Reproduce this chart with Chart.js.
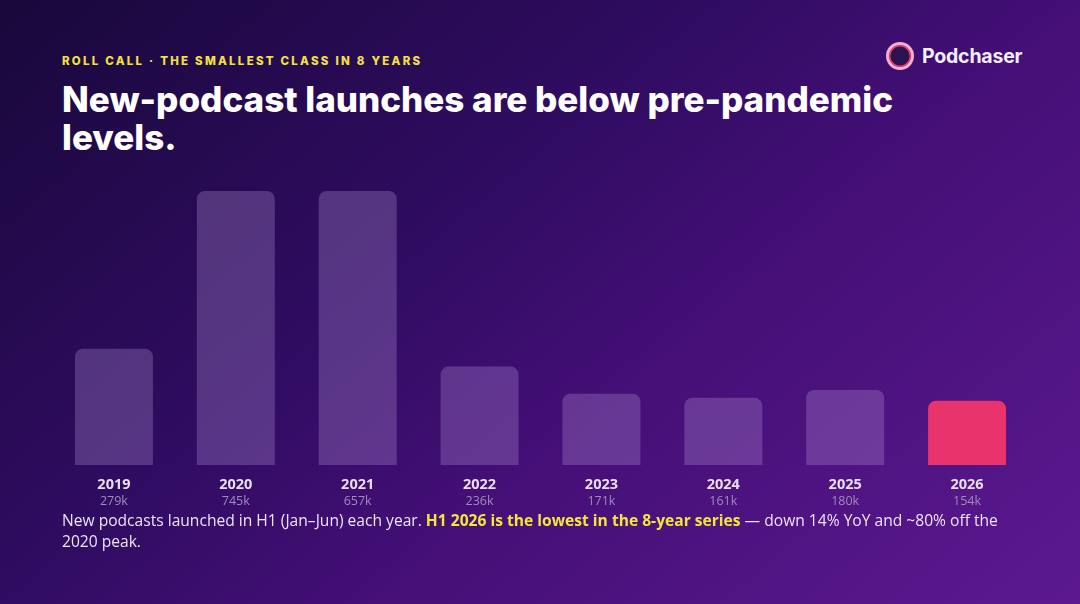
<!DOCTYPE html>
<html>
<head>
<meta charset="utf-8">
<script src="https://cdn.jsdelivr.net/npm/chart.js@4.4.1/dist/chart.umd.min.js"></script>
<style>
  html, body { margin:0; padding:0; }
  body { width:1080px; height:604px; overflow:hidden; position:relative;
    background: linear-gradient(140deg, #19083b 0%, #300c62 40%, #440f76 60%, #5c1990 100%);
    font-family: "Open Sans", sans-serif; }
  .kicker { position:absolute; left:62px; top:54px; color:#f2e23a; font-family:Inter, sans-serif;
    font-weight:800; font-size:11.5px; letter-spacing:2.25px; }
  .title { position:absolute; left:62px; top:80px; width:870px; color:#fff; font-family:Inter, sans-serif;
    font-weight:800; font-size:35px; line-height:38px; letter-spacing:0px; }
  .logo { position:absolute; left:886px; top:42px; display:flex; align-items:center; }
  .logo .ring { width:22px; height:22px; border-radius:50%; border:3px solid #f3b0cc;
    background:#2a1450; box-shadow:0 0 0 1.5px #e8336d inset; }
  .logo span { color:#f4eefa; font-family:Inter, sans-serif; font-weight:700; font-size:19.5px; margin-left:8px; letter-spacing:-0.2px; }
  .chartbox { position:absolute; left:53px; top:181px; width:975px; height:329px; }
  .caption { position:absolute; left:62px; top:510px; width:960px; color:#ece4f5; font-size:15.6px; line-height:21px; }
  .caption b { color:#f5e63a; font-weight:700; }
</style>
</head>
<body>
<div class="kicker">ROLL CALL · THE SMALLEST CLASS IN 8 YEARS</div>
<div class="title">New-podcast launches are below pre-pandemic levels.</div>
<div class="logo"><div class="ring"></div><span>Podchaser</span></div>
<div class="chartbox"><canvas id="c"></canvas></div>
<div class="caption">New podcasts launched in H1 (Jan–Jun) each year. <b>H1 2026 is the lowest in the 8-year series</b> — down 14% YoY and ~80% off the<br>2020 peak.</div>
<script>
const years = ["2019","2020","2021","2022","2023","2024","2025","2026"];
const launchesK = [279, 745, 657, 236, 171, 161, 180, 154];
const valueLabels = ["279k","745k","657k","236k","171k","161k","180k","154k"];
const Y_MAX = 657; // bars taller than this are capped at the top of the plot, as in the source

const labelPlugin = {
  id: 'yearLabels',
  afterDraw(chart) {
    const ctx = chart.ctx, xs = chart.scales.x, bottom = chart.chartArea.bottom;
    ctx.save();
    ctx.textAlign = 'center';
    ctx.textBaseline = 'middle';
    years.forEach((y, i) => {
      const px = xs.getPixelForValue(i);
      ctx.fillStyle = '#e8def2';
      ctx.font = '700 14.5px "Open Sans", sans-serif';
      ctx.fillText(y, px, bottom + 20);
      ctx.fillStyle = '#9e8cba';
      ctx.font = '400 12.5px "Open Sans", sans-serif';
      ctx.fillText(valueLabels[i], px, bottom + 36);
    });
    ctx.restore();
  }
};

new Chart(document.getElementById('c'), {
  type: 'bar',
  data: {
    labels: years,
    datasets: [{
      data: launchesK.map(v => Math.min(v, Y_MAX)),
      backgroundColor: years.map((y, i) => i === years.length - 1 ? '#e8336d' : 'rgba(185,155,222,0.29)'),
      borderRadius: { topLeft: 8, topRight: 8, bottomLeft: 0, bottomRight: 0 },
      borderSkipped: 'bottom',
      barPercentage: 1,
      categoryPercentage: 0.64
    }]
  },
  options: {
    responsive: true,
    maintainAspectRatio: false,
    animation: false,
    layout: { padding: { top: 10, bottom: 45, left: 0, right: 0 } },
    plugins: { legend: { display: false }, tooltip: { enabled: false } },
    scales: {
      x: { display: false, offset: true },
      y: { display: false, min: 0, max: Y_MAX }
    }
  },
  plugins: [labelPlugin]
});
</script>
</body>
</html>
